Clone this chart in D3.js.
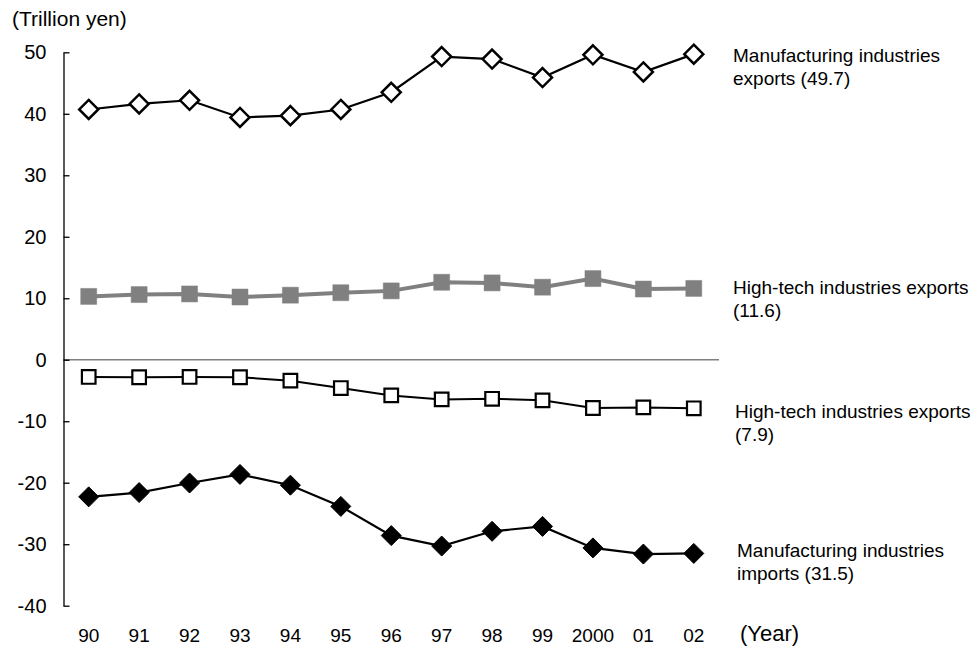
<!DOCTYPE html>
<html><head><meta charset="utf-8">
<script src="https://cdn.jsdelivr.net/npm/d3@7"></script>
<style>body{margin:0;background:#fff}svg{display:block;font-family:"Liberation Sans",Arial,sans-serif}</style>
</head><body><svg id="c" width="975" height="648"></svg>
<script>
const years = ["90","91","92","93","94","95","96","97","98","99","2000","01","02"];
const yTicks = [-40,-30,-20,-10,0,10,20,30,40,50];
const mfgExports = [40.7,41.6,42.2,39.4,39.7,40.7,43.5,49.3,48.9,45.9,49.6,46.8,49.7];
const hiTechExports = [10.3,10.6,10.7,10.2,10.5,10.9,11.2,12.6,12.5,11.8,13.2,11.5,11.6];
const hiTechImports = [-2.8,-2.85,-2.8,-2.85,-3.4,-4.6,-5.8,-6.45,-6.35,-6.6,-7.85,-7.75,-7.9];
const mfgImports = [-22.3,-21.6,-20.05,-18.65,-20.4,-23.85,-28.6,-30.3,-27.9,-27.1,-30.6,-31.6,-31.5];
const labels = [
  ["Manufacturing industries","exports (49.7)"],
  ["High-tech industries exports","(11.6)"],
  ["High-tech industries exports","(7.9)"],
  ["Manufacturing industries","imports (31.5)"]
];

const svg = d3.select("#c");
const FF = "Liberation Sans, Arial, sans-serif";
const x = d3.scaleBand().domain(years).range([63.5, 719]);
const cx = d => x(d) + x.bandwidth()/2;
const y = d3.scaleLinear().domain([-40, 50]).range([605.7, 52.3]);

// zero line
svg.append("line").attr("x1", 63.5).attr("x2", 719).attr("y1", y(0)).attr("y2", y(0))
  .attr("stroke", "#808080").attr("stroke-width", 1.5);

// y axis
const yAxis = d3.axisLeft(y).tickValues(yTicks).tickFormat(d => String(d))
  .tickSizeInner(-6).tickSizeOuter(0).tickPadding(17);
const ga = svg.append("g").attr("transform", "translate(63.5,0)").call(yAxis);
ga.select(".domain").attr("stroke", "#000").attr("stroke-width", 1.3);
ga.selectAll(".tick line").attr("stroke", "#000").attr("stroke-width", 1.3);
ga.selectAll(".tick text").attr("font-size", 20).attr("fill", "#000").attr("font-family", FF);

// x labels
const xAxis = d3.axisBottom(x).tickSize(0).tickPadding(0);
const gx = svg.append("g").attr("transform", "translate(0,628)").call(xAxis);
gx.select(".domain").remove();
gx.selectAll(".tick text").attr("font-size", 19).attr("fill", "#000").attr("font-family", FF);

svg.append("text").attr("x", 740).attr("y", 641).attr("font-size", 22).text("(Year)");
svg.append("text").attr("x", 12).attr("y", 25.5).attr("font-size", 21).text("(Trillion yen)");

const line = d3.line().x((d,i) => cx(years[i])).y(d => y(d));
const diamond = (s) => `M0,${-s}L${s},0L0,${s}L${-s},0Z`;
const sq = (h) => `M${-h},${-h}H${h}V${h}H${-h}Z`;

function series(vals, opt) {
  const g = svg.append("g");
  g.append("path").datum(vals).attr("d", line).attr("fill", "none")
    .attr("stroke", opt.lineColor).attr("stroke-width", opt.lineWidth);
  g.selectAll("path.m").data(vals).enter().append("path").attr("class", "m")
    .attr("transform", (d,i) => `translate(${cx(years[i])},${y(d)})`)
    .attr("d", opt.shape)
    .attr("fill", opt.fill).attr("stroke", opt.stroke).attr("stroke-width", opt.sw);
}

series(mfgExports, {lineColor:"#000", lineWidth:2.2, shape:diamond(9.5), fill:"#fff", stroke:"#000", sw:2.5});
series(hiTechExports, {lineColor:"#808080", lineWidth:4, shape:sq(8), fill:"#808080", stroke:"#808080", sw:0.5});
series(hiTechImports, {lineColor:"#000", lineWidth:2, shape:sq(6.8), fill:"#fff", stroke:"#000", sw:2.2});
series(mfgImports, {lineColor:"#000", lineWidth:2.2, shape:diamond(10), fill:"#000", stroke:"#000", sw:1});

const labPos = [[733, 61.5],[733, 293.5],[735, 417.5],[737, 556.5]];
labels.forEach((lines, k) => {
  const t = svg.append("text").attr("x", labPos[k][0]).attr("y", labPos[k][1]).attr("font-size", 19);
  lines.forEach((s, j) => t.append("tspan").attr("x", labPos[k][0]).attr("dy", j ? 23.5 : 0).text(s));
});
</script></body></html>
